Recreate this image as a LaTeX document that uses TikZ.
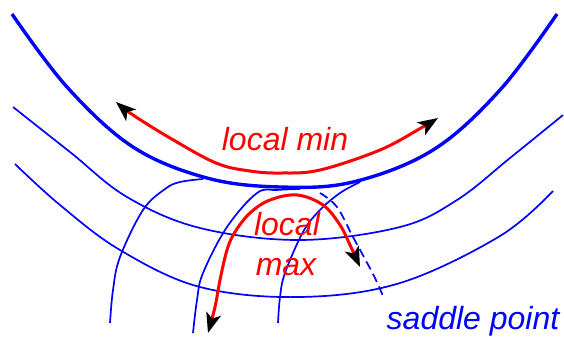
\documentclass[tikz,border=0pt]{standalone}
\usepackage{fontspec}
\setmainfont{Liberation Sans}
\usepackage{tikz}
\usetikzlibrary{arrows.meta}

\begin{document}
\begin{tikzpicture}[x=1pt, y=-1pt,
    level/.style={blue, line width=1.7pt},
    levelmin/.style={blue, line width=3.4pt},
    flow/.style={red, line width=3pt,
      {Stealth[length=20pt, width=15pt, inset=5pt, color=black]}-{Stealth[length=20pt, width=15pt, inset=5pt, color=black]}},
    lbl/.style={font=\fontsize{32}{36}\selectfont\itshape, inner sep=0pt}]
  \useasboundingbox (0,0) rectangle (564,338);

  % ---- level sets: outer contours ----
  \draw[levelmin] plot[smooth, tension=0.6] coordinates {(12,14) (67,87) (133,147)
    (207,178) (280,187) (353,182) (433,150) (500,90) (557,14)};
  \draw[level] plot[smooth, tension=0.6] coordinates {(13,107) (70,152) (127,197)
    (200,228) (300,240) (400,227) (457,200) (510,158) (563,115)};
  \draw[level] plot[smooth, tension=0.6] coordinates {(15,164) (60,205)
    (120,250) (200,287) (300,297) (400,283) (500,236) (553,191)};

  % ---- level sets: branches below the saddle ----
  \draw[level] plot[smooth, tension=0.6] coordinates {(110,323) (113,290) (120,257)
    (143,210) (165,189) (180,182) (203,179)};
  \draw[level] plot[smooth, tension=0.6] coordinates {(193,333) (197,300) (203,273)
    (227,227) (257,193) (277,190) (300,189)};
  \draw[level] plot[smooth, tension=0.6] coordinates {(278,323) (280,297) (285,273)
    (303,232) (320,210) (340,193) (360,182)};
  \draw[level, dash pattern=on 9pt off 5pt] plot[smooth, tension=0.6] coordinates {(320,193)
    (337,207) (353,237) (373,274) (383,296)};

  % ---- descent directions ----
  \draw[flow] plot[smooth, tension=0.6] coordinates {(116,102) (133,115) (170,138) (216,163)
    (250,171) (281,173) (320,170) (380,150) (421,128) (438,118)};
  \draw[flow] plot[smooth, tension=0.6] coordinates {(360,267) (350,245) (340,225) (323,205)
    (297,195) (270,200) (250,213) (235,232) (227,250) (220,280) (215,307) (208,333)};

  % ---- labels ----
  \node[lbl, red, anchor=base] (lmin) at (285,150) {local min};
  \node[lbl, red, anchor=base] (lmaxa) at (287,235) {local};
  \node[lbl, red, anchor=base] (lmaxb) at (286,275) {max};
  \node[lbl, blue, anchor=base] (saddle) at (473,329) {saddle point};
\end{tikzpicture}
\end{document}
